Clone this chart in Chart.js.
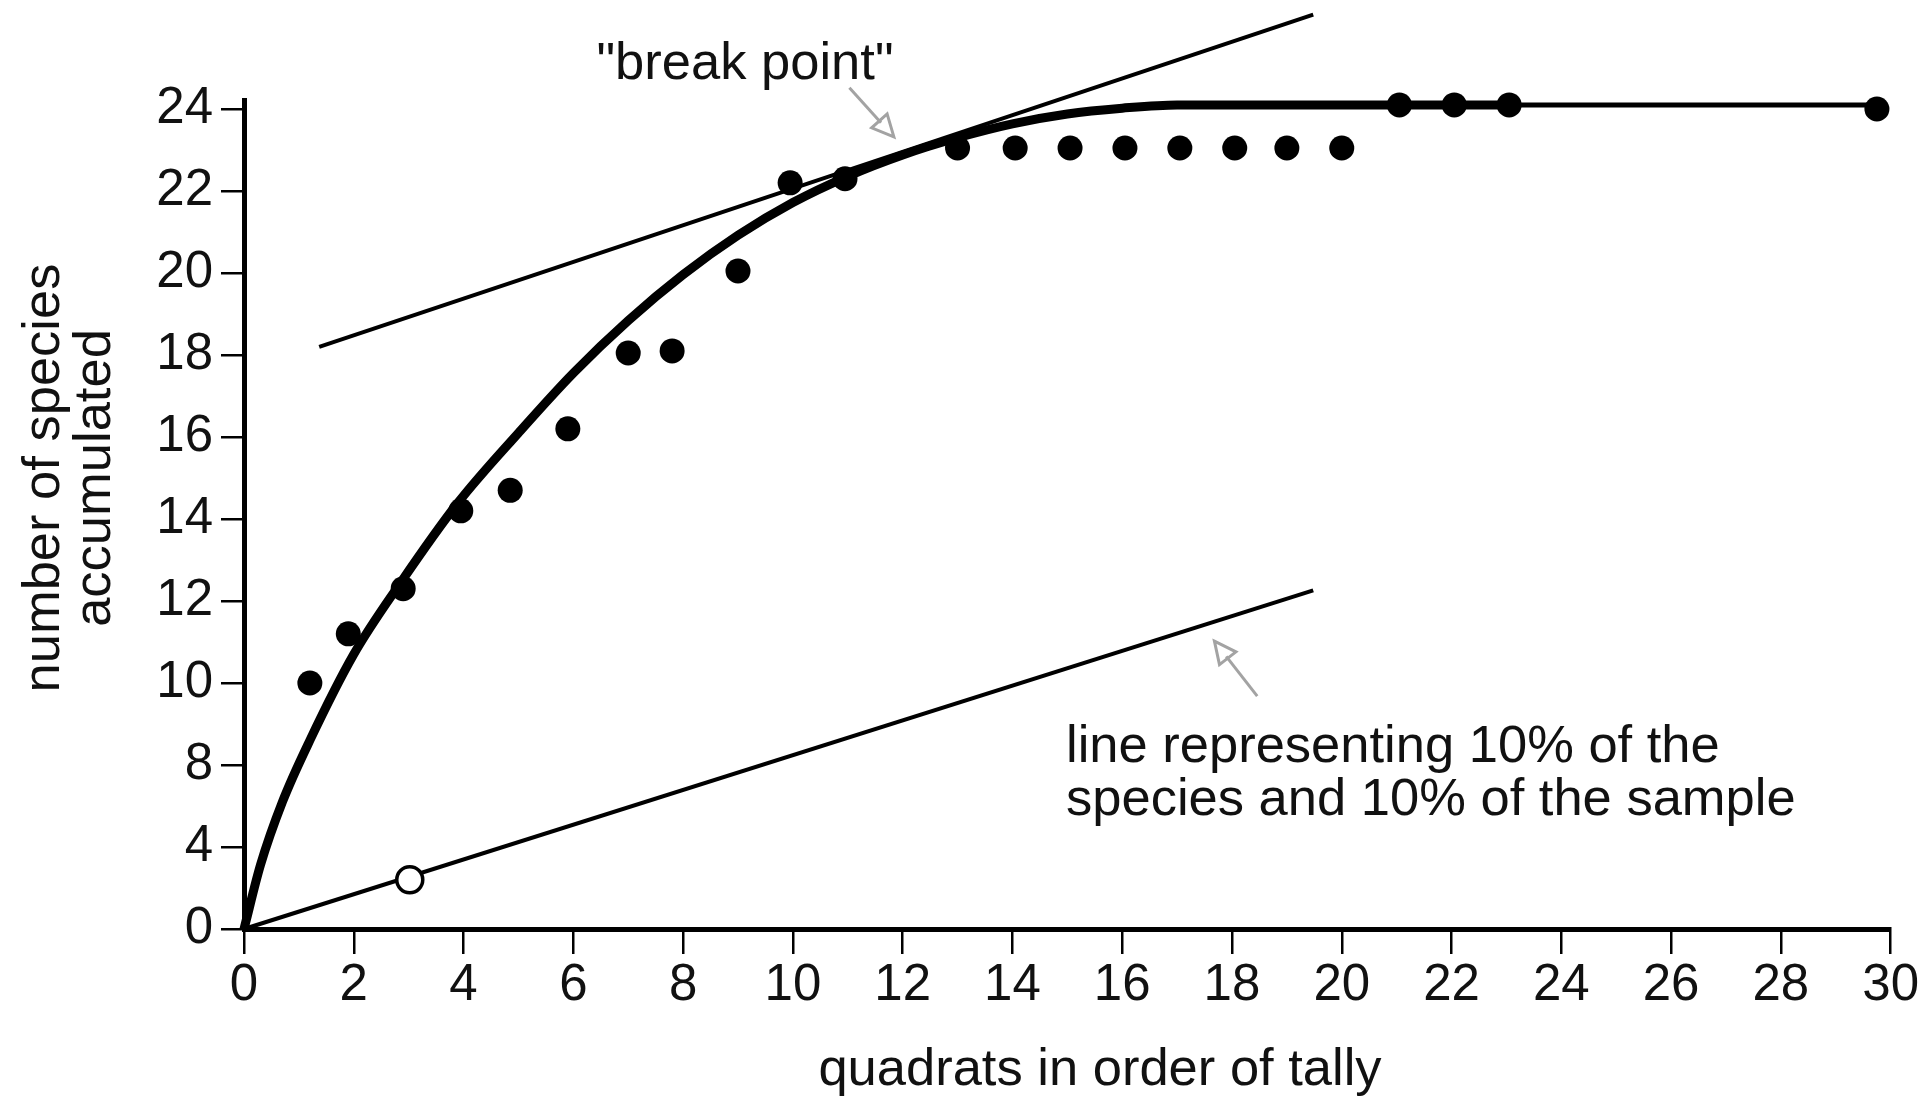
<!DOCTYPE html>
<html><head><meta charset="utf-8">
<script src="https://cdn.jsdelivr.net/npm/chart.js@4.4.0/dist/chart.umd.min.js"></script>
<style>html,body{margin:0;padding:0;background:#fff;}#wrap{width:1925px;height:1097px;}</style>
</head><body><div id="wrap"><canvas id="c" width="1925" height="1097"></canvas></div>
<script>
// ---- data (species values as printed on the axis) ----
const yTickValues = [0, 4, 8, 10, 12, 14, 16, 18, 20, 22, 24];
const xTickValues = [0, 2, 4, 6, 8, 10, 12, 14, 16, 18, 20, 22, 24, 26, 28, 30];

const quadrats = [1.2, 1.9, 2.9, 3.95, 4.85, 5.9, 7.0, 7.8, 9.0, 9.95, 10.95, 13.0, 14.05, 15.05, 16.05, 17.05, 18.05, 19.0, 20.0, 21.05, 22.05, 23.05, 29.75];
const speciesAccumulated = [10.0, 11.2, 12.3, 14.2, 14.7, 16.2, 18.05, 18.1, 20.05, 22.2, 22.3, 23.05, 23.05, 23.05, 23.05, 23.05, 23.05, 23.05, 23.05, 24.1, 24.1, 24.1, 24.0];

const curveX = [0, 0.3, 0.7, 1.2, 2.0, 2.85, 3.9, 5.0, 6.0, 7.0, 8.0, 9.0, 10.0, 11.0, 12.0, 13.0, 14.0, 15.0, 16.0, 17.0, 23.0];
const curveY = [0, 3.12, 6.2, 8.6, 10.7, 12.44, 14.4, 16.1, 17.56, 18.84, 19.96, 20.92, 21.72, 22.36, 22.88, 23.3, 23.64, 23.88, 24.02, 24.1, 24.1];

const plateauX = [23.0, 29.75];
const plateauY = [24.1, 24.1];

const tangentX = [1.37, 19.48];
const tangentY = [18.2, 26.3];

const tenPercentX = [0, 19.48];
const tenPercentY = [0, 12.26];

const markerX = [3.02];
const markerY = [2.4];

const xTitle = 'quadrats in order of tally';
const yTitle = ['number of species', 'accumulated'];
const breakLabel = '"break point"';
const tenPercentLabel = ['line representing 10% of the', 'species and 10% of the sample'];
const breakArrow = {tail: [11.03, 24.52], tip: [11.84, 23.32]};
const tenArrow = {tail: [18.46, 9.68], tip: [17.68, 11.02]};

// ---- axis mapping: labels are equally spaced ----
function toAxis(v) {
  const t = yTickValues;
  if (v <= t[0]) return 0;
  for (let i = 0; i < t.length - 1; i++) {
    if (v <= t[i + 1]) return i + (v - t[i]) / (t[i + 1] - t[i]);
  }
  const n = t.length - 1;
  return n + (v - t[n]) / (t[n] - t[n - 1]);
}
const pts = (xs, ys) => xs.map((x, i) => ({x: x, y: toAxis(ys[i])}));

const FONT = "'Liberation Sans', Arial, sans-serif";
const FS = 51;
const FT = 52.5;

const annotations = {
  id: 'annotations',
  afterDraw(chart) {
    const ctx = chart.ctx, xs = chart.scales.x, ys = chart.scales.y;
    const P = (p) => [xs.getPixelForValue(p[0]), ys.getPixelForValue(toAxis(p[1]))];
    ctx.save();
    ctx.fillStyle = '#111';
    ctx.font = FT + 'px ' + FONT;
    ctx.textBaseline = 'middle';
    // x title
    ctx.textAlign = 'center';
    ctx.fillText(xTitle, 1100, 1071);
    // break point label
    ctx.fillText(breakLabel, 745, 65);
    // 10% label
    ctx.textAlign = 'left';
    ctx.fillText(tenPercentLabel[0], 1066, 748);
    ctx.fillText(tenPercentLabel[1], 1066, 801);
    // y title
    ctx.save();
    ctx.translate(45, 478);
    ctx.rotate(-Math.PI / 2);
    ctx.textAlign = 'center';
    ctx.fillText(yTitle[0], 0, 0);
    ctx.fillText(yTitle[1], 0, 51);
    ctx.restore();
    // arrows
    function arrow(a) {
      const [x0, y0] = P(a.tail), [x1, y1] = P(a.tip);
      const ang = Math.atan2(y1 - y0, x1 - x0);
      const L = 24, w = 0.45;
      ctx.strokeStyle = '#a3a3a3';
      ctx.lineWidth = 3;
      ctx.beginPath();
      ctx.moveTo(x0, y0);
      ctx.lineTo(x1 - Math.cos(ang) * L * 0.8, y1 - Math.sin(ang) * L * 0.8);
      ctx.stroke();
      ctx.beginPath();
      ctx.moveTo(x1, y1);
      ctx.lineTo(x1 - L * Math.cos(ang - w), y1 - L * Math.sin(ang - w));
      ctx.lineTo(x1 - L * Math.cos(ang + w), y1 - L * Math.sin(ang + w));
      ctx.closePath();
      ctx.stroke();
    }
    arrow(breakArrow);
    arrow(tenArrow);
    ctx.restore();
  }
};

const lineDs = (data, width, order) => ({
  data: data, showLine: true, borderColor: '#000', backgroundColor: '#000',
  borderWidth: width, pointRadius: 0, clip: false, order: order
});

new Chart(document.getElementById('c'), {
  type: 'scatter',
  data: {
    datasets: [
      Object.assign(lineDs(pts(curveX, curveY), 9, 3), {cubicInterpolationMode: 'monotone'}),
      lineDs(pts(plateauX, plateauY), 5, 3),
      lineDs(pts(tangentX, tangentY), 4, 2),
      lineDs(pts(tenPercentX, tenPercentY), 4, 2),
      {data: pts(quadrats, speciesAccumulated), pointRadius: 12.5, pointBackgroundColor: '#000',
       pointBorderColor: '#000', pointBorderWidth: 0, showLine: false, clip: false, order: 0},
      {data: pts(markerX, markerY), pointRadius: 13, pointBackgroundColor: '#fff',
       pointBorderColor: '#000', pointBorderWidth: 3.5, showLine: false, clip: false, order: 0}
    ]
  },
  options: {
    responsive: false, animation: false, devicePixelRatio: 1,
    events: [],
    layout: {padding: {left: 0, top: 100, right: 33, bottom: 0}},
    plugins: {legend: {display: false}, tooltip: {enabled: false}},
    scales: {
      x: {
        type: 'linear', min: 0, max: 30,
        afterBuildTicks: s => { s.ticks = xTickValues.map(v => ({value: v})); },
        afterFit: s => { s.height = 168; },
        ticks: {autoSkip: false, maxRotation: 0, color: '#111', padding: 6,
                font: {family: FONT, size: FS, lineHeight: 1}},
        grid: {drawOnChartArea: false, drawTicks: true, tickLength: 25, color: '#000', lineWidth: 2.5},
        border: {display: true, color: '#000', width: 5}
      },
      y: {
        type: 'linear', min: 0, max: 10.11,
        afterBuildTicks: s => { s.ticks = yTickValues.map((v, i) => ({value: i})); },
        afterFit: s => { s.width = 244; },
        ticks: {autoSkip: false, color: '#111', padding: 8,
                font: {family: FONT, size: FS, lineHeight: 1},
                callback: (v) => String(yTickValues[v])},
        grid: {drawOnChartArea: false, drawTicks: true, tickLength: 23, color: '#000', lineWidth: 2.5},
        border: {display: true, color: '#000', width: 5}
      }
    }
  },
  plugins: [annotations]
});
</script></body></html>
